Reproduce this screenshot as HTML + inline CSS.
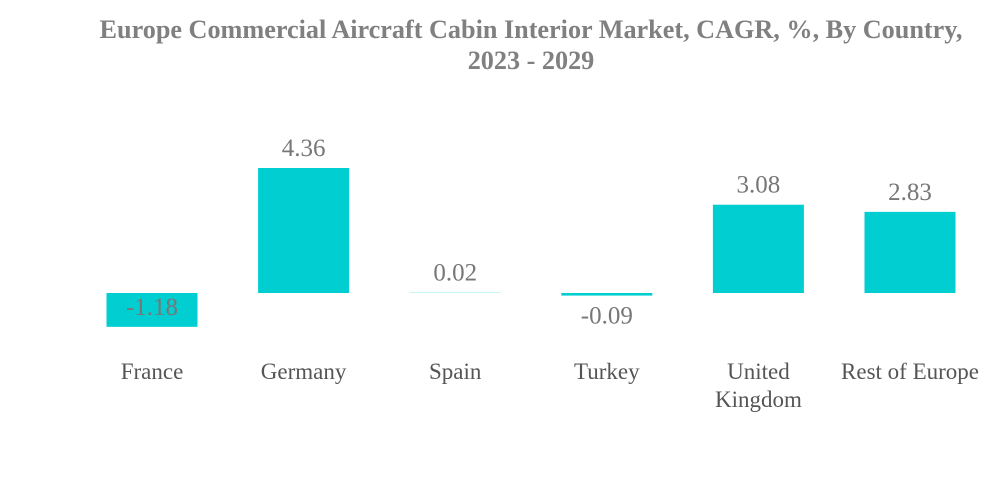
<!DOCTYPE html>
<html><head><meta charset="utf-8">
<style>
html,body{margin:0;padding:0;background:#fff;}
body{width:1000px;height:483px;overflow:hidden;font-family:"Liberation Serif",serif;}
</style></head>
<body>
<svg width="1000" height="483" xmlns="http://www.w3.org/2000/svg">
<text x="531" y="38" text-anchor="middle" font-family="Liberation Serif, serif" font-weight="bold" font-size="26.2" fill="#808080">Europe Commercial Aircraft Cabin Interior Market, CAGR, %, By Country,</text>
<text x="531" y="69" text-anchor="middle" font-family="Liberation Serif, serif" font-weight="bold" font-size="26.2" fill="#808080">2023 - 2029</text>
<g id="bars"></g>
</svg>
<script>
const categories = [["France"],["Germany"],["Spain"],["Turkey"],["United","Kingdom"],["Rest of Europe"]];
const values = [-1.18, 4.36, 0.02, -0.09, 3.08, 2.83];
const labels = ["-1.18","4.36","0.02","-0.09","3.08","2.83"];

const NS = "http://www.w3.org/2000/svg";
const g = document.getElementById("bars");
const zeroY = 293, pxPerUnit = 28.67, x0 = 152, step = 151.6, bw = 91;
function yScale(v){ return zeroY - v * pxPerUnit; }
function xScale(i){ return x0 + i * step; }

values.forEach((v, i) => {
  const cx = xScale(i);
  const yv = yScale(v);
  const top = Math.min(yv, zeroY), h = Math.max(Math.abs(yv - zeroY), 0.6);
  const r = document.createElementNS(NS, "rect");
  r.setAttribute("x", cx - bw/2); r.setAttribute("y", top);
  r.setAttribute("width", bw); r.setAttribute("height", h);
  r.setAttribute("fill", "#00ced1");
  if (Math.abs(v) < 0.05) r.setAttribute("fill-opacity", "0.35");
  
  
  g.appendChild(r);

  let ly = (v < 0 && h < 20) ? yv + 20 : yv - 20;
  const t = document.createElementNS(NS, "text");
  t.setAttribute("x", cx); t.setAttribute("y", ly + 8);
  t.setAttribute("text-anchor", "middle");
  t.setAttribute("font-size", "25");
  t.setAttribute("fill", "#777");
  t.setAttribute("font-family", "Liberation Serif, serif");
  t.textContent = labels[i];
  
  
  g.appendChild(t);

  categories[i].forEach((line, j) => {
    const c = document.createElementNS(NS, "text");
    c.setAttribute("x", cx); c.setAttribute("y", 379 + j * 28);
    c.setAttribute("text-anchor", "middle");
    c.setAttribute("font-size", "23");
    c.setAttribute("fill", "#555");
    c.setAttribute("font-family", "Liberation Serif, serif");
    c.textContent = line;
    
    
    g.appendChild(c);
  });
});
</script>
</body></html>
